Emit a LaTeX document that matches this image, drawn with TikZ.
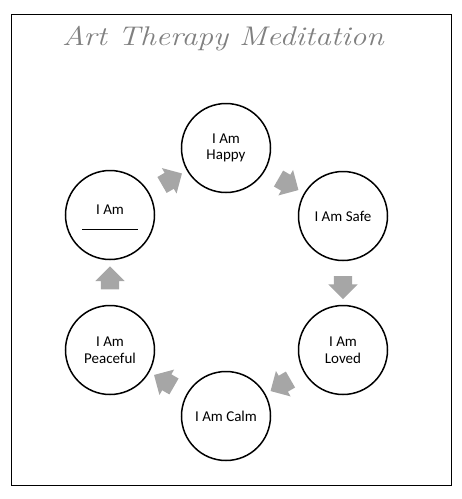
\documentclass[tikz,border=0pt]{standalone}
\usepackage{fontspec}
\newfontfamily\calibri{Carlito}
\usetikzlibrary{shapes.arrows,calc}

\tikzset{
  ring/.style={circle, draw, line width=1.5pt, minimum size=89pt, inner sep=0pt,
    font=\calibri\fontsize{15}{16.5}\selectfont, align=center},
  blockarrow/.style={single arrow, fill=black!35, draw=none, inner xsep=0pt, inner ysep=9pt,
    minimum height=23pt, single arrow head extend=5.5pt}
}

\begin{document}
\begin{tikzpicture}[x=1pt,y=-1pt]
\useasboundingbox (0,0) rectangle (462,499);
\draw[line width=0.8pt] (11,14) rectangle (451,485); %frame

\node[font=\itshape\fontsize{27}{32}\selectfont, text=black!50, anchor=base] (title) at (223,45) {\scalebox{1.17}[1]{Art Therapy Meditation}};

%the six circles
\node[ring] (happy) at (226,148) {I Am\\Happy};
\node[ring] (safe) at (343,216) {I Am Safe};
\node[ring] (loved) at (343,350) {I Am\\Loved};
\node[ring] (calm) at (226,416) {I Am Calm};
\node[ring] (peaceful) at (110,350) {I Am\\Peaceful};
\node[ring] (iam) at (110,215) {};
\node[font=\calibri\fontsize{15}{16.5}\selectfont] (iamtext) at ([yshift=5pt]iam.center) {I Am};
\draw[line width=0.8pt] ([xshift=-28pt,yshift=-14pt]iam.center) -- ([xshift=28pt,yshift=-14pt]iam.center); %blank to fill in

%block arrows half way between the circles
\node[blockarrow, rotate=30] (a1) at ($(iam)!0.5!(happy)$) {};
\node[blockarrow, rotate=-30] (a2) at ($(happy)!0.5!(safe)$) {};
\node[blockarrow, rotate=-90] (a3) at ($(safe)!0.5!(loved)$) {};
\node[blockarrow, rotate=210] (a4) at ($(loved)!0.5!(calm)$) {};
\node[blockarrow, rotate=150] (a5) at ($(calm)!0.5!(peaceful)$) {};
\node[blockarrow, rotate=90] (a6) at ($(peaceful)!0.5!(iam)$) {};
\end{tikzpicture}
\end{document}
